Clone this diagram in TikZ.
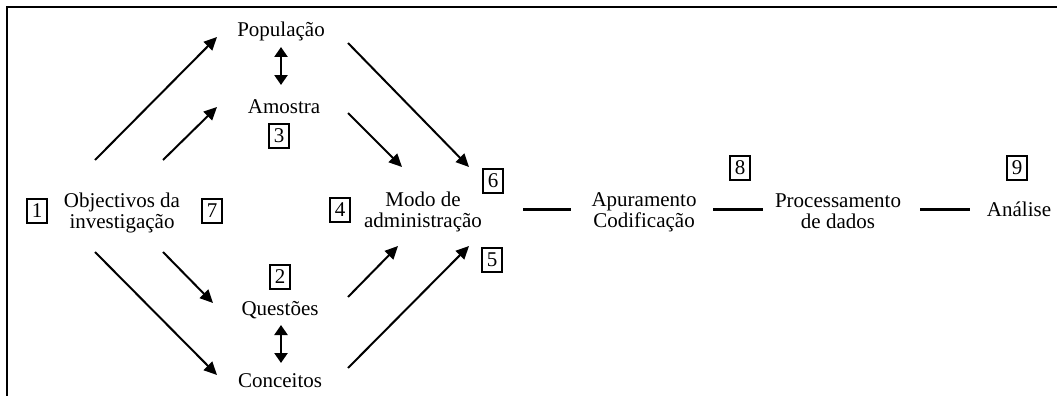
\documentclass[tikz,border=0pt]{standalone}
\usepackage{fontspec}
\setmainfont{Liberation Serif}
\usetikzlibrary{arrows.meta}
\begin{document}
\begin{tikzpicture}[x=1pt,y=-1pt,
  txt/.style={font=\fontsize{21}{21}\selectfont, inner sep=0pt, align=center, anchor=base},
  numbox/.style={draw, line width=2.2pt, font=\fontsize{21}{21}\selectfont, inner sep=0pt, minimum width=20pt, minimum height=24pt},
  flow/.style={line width=2pt, -{Triangle[length=13pt,width=12pt]}},
  both/.style={line width=2.4pt, {Triangle[length=10pt,width=13pt]}-{Triangle[length=10pt,width=13pt]}},
  link/.style={line width=3pt}]
\useasboundingbox (0,0) rectangle (1057,396);
\draw[line width=2.6pt] (7,397) -- (7,7) -- (1058,7);

% text nodes (base anchor = baseline of the last line)
\node[txt] (pop)  at (281,37)  {População};
\node[txt] (amo)  at (284,113) {Amostra};
\node[txt] (obj)  at (122,228) {Objectivos da\\investigação};
\node[txt] (que)  at (280,315) {Questões};
\node[txt] (con)  at (280,387) {Conceitos};
\node[txt] (modo) at (423,227) {Modo de\\administração};
\node[txt] (apu)  at (644,227) {Apuramento\\Codificação};
\node[txt] (proc) at (838,228) {Processamento\\de dados};
\node[txt] (ana)  at (1019,216) {Análise};

% numbered boxes
\node[numbox] (b1) at (37,211)  {1};
\node[numbox] (b7) at (212,211) {7};
\node[numbox] (b4) at (340,210) {4};
\node[numbox] (b3) at (279,136) {3};
\node[numbox] (b2) at (280,277) {2};
\node[numbox] (b6) at (493,181) {6};
\node[numbox] (b5) at (492,260) {5};
\node[numbox] (b8) at (740,168) {8};
\node[numbox] (b9) at (1017,168) {9};

% connector end points
\coordinate (o1) at (95,160);  \coordinate (p1) at (217,37);
\coordinate (o2) at (163,160); \coordinate (a1) at (217,107);
\coordinate (o3) at (163,252); \coordinate (q1) at (213,303);
\coordinate (o4) at (95,252);  \coordinate (c1) at (217,375);
\coordinate (p2) at (348,43);  \coordinate (m1) at (469,167);
\coordinate (a2) at (348,113); \coordinate (m2) at (402,167);
\coordinate (q2) at (348,297); \coordinate (m3) at (398,246);
\coordinate (c2) at (348,368); \coordinate (m4) at (469,246);
\coordinate (pd) at (281,47);  \coordinate (au) at (281,85);
\coordinate (qd) at (281,325); \coordinate (cu) at (281,363);
\coordinate (l1a) at (523,209); \coordinate (l1b) at (571,209);
\coordinate (l2a) at (713,209); \coordinate (l2b) at (763,209);
\coordinate (l3a) at (920,209); \coordinate (l3b) at (970,209);

\draw[flow] (o1) -- (p1);
\draw[flow] (o2) -- (a1);
\draw[flow] (o3) -- (q1);
\draw[flow] (o4) -- (c1);
\draw[flow] (p2) -- (m1);
\draw[flow] (a2) -- (m2);
\draw[flow] (q2) -- (m3);
\draw[flow] (c2) -- (m4);
\draw[both] (pd) -- (au);
\draw[both] (qd) -- (cu);
\draw[link] (l1a) -- (l1b);
\draw[link] (l2a) -- (l2b);
\draw[link] (l3a) -- (l3b);
\end{tikzpicture}
\end{document}
